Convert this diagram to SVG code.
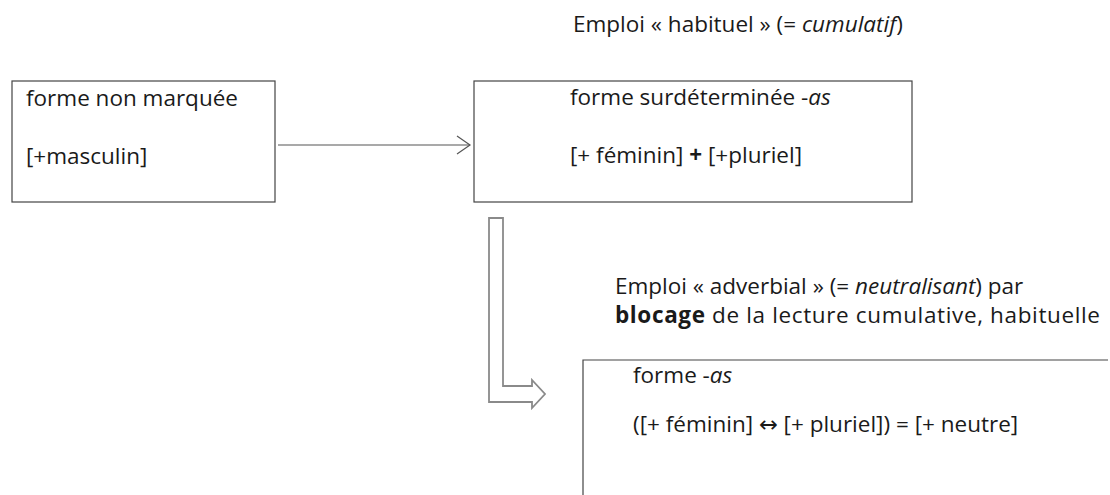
<svg xmlns="http://www.w3.org/2000/svg" width="1110" height="495" viewBox="0 0 1110 495">
<style>
text{font-family:"Open Sans","Noto Sans","DejaVu Sans",sans-serif;font-size:22.5px;fill:#1a1a1a}
.box{fill:#fff;stroke:#444;stroke-width:1.2}
.conn{fill:none;stroke:#555;stroke-width:1.2}
.block{fill:#fff;stroke:#8a8a8a;stroke-width:1.8}
.i{font-style:italic}
.b{font-weight:bold}
</style>
<rect width="1110" height="495" fill="#fff"/>
<g id="label-habituel">
<text x="573" y="32">Emploi « habituel » (= <tspan class="i">cumulatif</tspan>)</text>
</g>
<g id="node-non-marquee">
<rect class="box" x="12" y="81" width="263" height="121"/>
<text x="26" y="106">forme non marquée</text>
<text x="26" y="164">[+masculin]</text>
</g>
<g id="node-surdeterminee">
<rect class="box" x="474" y="81" width="438" height="121"/>
<text x="570" y="105">forme surdéterminée -<tspan class="i">as</tspan></text>
<text x="570" y="163">[+ féminin] <tspan class="b">+</tspan> [+pluriel]</text>
</g>
<g id="connectors">
<line class="conn" x1="278" y1="145" x2="470" y2="145"/>
<polyline class="conn" points="457,136 470,145 457,154"/>
<path class="block" d="M489,218 L503,218 L503,386 L532,386 L532,380 L545,394 L532,408 L532,402 L489,402 Z"/>
</g>
<g id="label-adverbial">
<text x="615" y="294">Emploi « adverbial » (= <tspan class="i">neutralisant</tspan>) par</text>
<text x="615" y="323" textLength="485"><tspan class="b">blocage</tspan> de la lecture cumulative, habituelle</text>
</g>
<g id="node-forme-as">
<path class="box" d="M583,500 L583,360 L1108,360"/>
<text x="633" y="383">forme -<tspan class="i">as</tspan></text>
<text x="633" y="432">([+ féminin] ↔ [+ pluriel]) = [+ neutre]</text>
</g>
</svg>
